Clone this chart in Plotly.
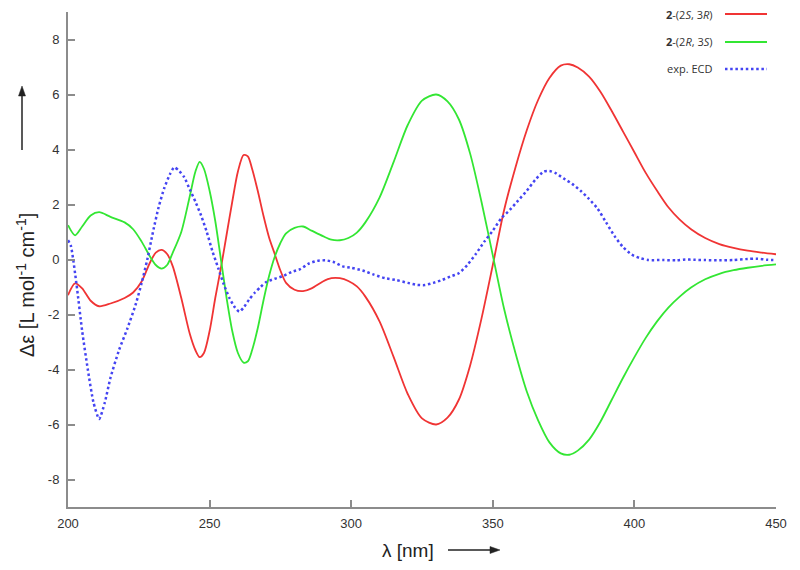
import plotly.graph_objects as go

# ---- data ----
red_x = [200, 202.5, 205, 208, 211, 215, 220, 223, 226, 229, 231, 233, 235, 237, 240, 243, 245, 246.5, 248, 250,
         252, 254, 256, 258, 260, 262, 263.5, 265, 267, 269, 271, 273, 275, 277, 280, 283, 286, 290, 293, 296,
         299, 302, 305, 310, 315, 320, 325, 330, 334, 338, 342, 346, 350, 354, 358, 362, 366, 370, 374, 377,
         380, 384, 388, 392, 396, 400, 404, 408, 412, 416, 420, 425, 430, 435, 440, 445, 450]
red_y = [-1.30, -0.87, -1.05, -1.50, -1.70, -1.60, -1.40, -1.20, -0.80, -0.10, 0.25, 0.35, 0.20, -0.25, -1.40, -2.70, -3.30, -3.55, -3.40, -2.60,
         -1.40, -0.30, 0.90, 2.10, 3.20, 3.80, 3.75, 3.30, 2.50, 1.60, 0.80, 0.20, -0.40, -0.85, -1.10, -1.15, -1.05, -0.80, -0.68, -0.68,
         -0.78, -0.98, -1.35, -2.25, -3.55, -4.90, -5.78, -6.00, -5.75, -5.10, -3.85, -2.15, -0.20, 1.80, 3.35, 4.70, 5.80, 6.60, 7.05, 7.10,
         6.98, 6.65, 6.10, 5.40, 4.65, 3.90, 3.15, 2.50, 1.90, 1.45, 1.10, 0.78, 0.56, 0.42, 0.32, 0.25, 0.19]

green_x = red_x
green_y = [1.25, 0.88, 1.20, 1.60, 1.72, 1.55, 1.35, 1.10, 0.65, 0.10, -0.20, -0.33, -0.20, 0.25, 1.00, 2.30, 3.20, 3.55, 3.30, 2.50,
           1.40, 0.00, -1.40, -2.60, -3.40, -3.75, -3.70, -3.30, -2.50, -1.50, -0.60, 0.10, 0.60, 0.95, 1.15, 1.20, 1.05, 0.85, 0.72, 0.70,
           0.78, 0.98, 1.35, 2.25, 3.55, 4.90, 5.78, 6.00, 5.75, 5.10, 3.85, 2.10, 0.15, -1.80, -3.40, -4.80, -5.85, -6.65, -7.05, -7.10,
           -6.95, -6.55, -5.90, -5.10, -4.30, -3.55, -2.85, -2.25, -1.75, -1.35, -1.02, -0.72, -0.52, -0.39, -0.30, -0.23, -0.18]

exp_x = [200, 201, 203, 205, 207, 209, 211, 213, 215, 218, 221, 224, 226, 228, 230, 232, 234, 236, 237.5, 239,
         241, 243, 245, 247, 249, 251, 253, 255, 257, 259, 260.5, 262, 264, 266, 268, 270, 273, 276, 279, 282,
         285, 288, 291, 294, 297, 300, 304, 308, 312, 316, 320, 323, 326, 329, 332, 335, 338, 341, 344, 347,
         350, 353, 356, 359, 362, 365, 368, 370, 372, 375, 378, 381, 384, 387, 390, 393, 396, 399, 402, 405,
         410, 415, 418, 421, 425, 430, 435, 440, 443, 447, 450]
exp_y = [0.70, 0.50, -0.90, -2.60, -4.00, -5.20, -5.80, -5.20, -4.30, -3.30, -2.50, -1.60, -0.85, 0.00, 1.00, 1.90, 2.60, 3.10, 3.35, 3.25,
         3.00, 2.55, 2.10, 1.60, 1.00, 0.30, -0.30, -0.90, -1.40, -1.75, -1.90, -1.75, -1.45, -1.20, -1.00, -0.82, -0.70, -0.60, -0.45, -0.35,
         -0.15, -0.05, -0.03, -0.10, -0.25, -0.30, -0.40, -0.55, -0.68, -0.75, -0.85, -0.92, -0.93, -0.85, -0.75, -0.62, -0.50, -0.20, 0.20, 0.65,
         1.05, 1.50, 1.80, 2.15, 2.50, 2.90, 3.20, 3.22, 3.15, 2.95, 2.75, 2.50, 2.20, 1.85, 1.35, 0.85, 0.45, 0.18, 0.05, -0.02,
         -0.02, -0.03, 0.00, -0.01, -0.02, -0.03, -0.02, 0.02, 0.03, -0.01, -0.02]

x_ticks = [200, 250, 300, 350, 400, 450]
y_ticks = [-8, -6, -4, -2, 0, 2, 4, 6, 8]
x_ticklabels = ["200", "250", "300", "350", "400", "450"]
y_ticklabels = ["-8", "-6", "-4", "-2", "0", "2", "4", "6", "8"]

legend_labels = ["<b>2</b>-(2<i>S</i>, 3<i>R</i>)", "<b>2</b>-(2<i>R</i>, 3<i>S</i>)", "exp. ECD"]
x_title = "λ [nm]"
y_title = "Δε [L mol<sup>-1</sup> cm<sup>-1</sup>]"

RED, GREEN, BLUE = "#f03434", "#33e633", "#4444f2"
AXIS = "#8c8c8c"
TXT = "#222222"

fig = go.Figure()
fig.add_trace(go.Scatter(x=red_x, y=red_y, mode="lines", line=dict(color=RED, width=1.8, shape="spline", smoothing=0.8)))
fig.add_trace(go.Scatter(x=green_x, y=green_y, mode="lines", line=dict(color=GREEN, width=1.8, shape="spline", smoothing=0.8)))
fig.add_trace(go.Scatter(x=exp_x, y=exp_y, mode="lines",
                         line=dict(color=BLUE, width=2.5, dash="2.5px,2.7px", shape="spline", smoothing=0.6)))

L, R, T, B = 68, 24, 12, 63
W, H = 800, 570
pw, ph = W - L - R, H - T - B


def px(xpix):
    return (xpix - L) / pw


def py(ypix):
    return (H - B - ypix) / ph


axis_common = dict(showline=True, linecolor=AXIS, linewidth=2, ticks="inside", ticklen=7,
                   tickcolor=AXIS, tickwidth=1.5, showgrid=False, zeroline=False,
                   tickfont=dict(family="Liberation Sans", size=13, color="#333333"))

fig.update_layout(
    width=W, height=H, margin=dict(l=L, r=R, t=T, b=B, autoexpand=False),
    paper_bgcolor="white", plot_bgcolor="white", showlegend=False,
    xaxis=dict(range=[200, 450], tickvals=x_ticks, ticktext=x_ticklabels, ticklabelstandoff=3, **axis_common),
    yaxis=dict(range=[-9, 9], tickvals=y_ticks, ticktext=y_ticklabels, ticklabelstandoff=4, **axis_common),
)

ann = []
shapes = []
# axis titles
ann.append(dict(text=x_title, x=px(408), y=py(550), xref="paper", yref="paper", showarrow=False,
                xanchor="center", yanchor="middle",
                font=dict(family="Liberation Sans", size=19, color=TXT)))
ann.append(dict(text=y_title, x=px(25), y=py(285), xref="paper", yref="paper", showarrow=False,
                textangle=-90, xanchor="center", yanchor="middle",
                font=dict(family="Liberation Sans", size=20, color=TXT)))

# arrows next to axis titles (drawn as shapes)
ax0, ax1, ayy = 448, 500, 550
shapes.append(dict(type="line", xref="paper", yref="paper", x0=px(ax0), x1=px(ax1 - 6), y0=py(ayy), y1=py(ayy),
                   line=dict(color=TXT, width=1.5)))
shapes.append(dict(type="path", xref="paper", yref="paper", fillcolor=TXT, line=dict(color=TXT, width=0.5),
                   path=f"M {px(ax1)},{py(ayy)} L {px(ax1 - 10)},{py(ayy - 3.5)} L {px(ax1 - 10)},{py(ayy + 3.5)} Z"))
bx, by0, by1 = 22, 150, 86
shapes.append(dict(type="line", xref="paper", yref="paper", x0=px(bx), x1=px(bx), y0=py(by0), y1=py(by1 + 6),
                   line=dict(color=TXT, width=1.5)))
shapes.append(dict(type="path", xref="paper", yref="paper", fillcolor=TXT, line=dict(color=TXT, width=0.5),
                   path=f"M {px(bx)},{py(by1)} L {px(bx - 3.5)},{py(by1 + 10)} L {px(bx + 3.5)},{py(by1 + 10)} Z"))

# legend
leg_y = [14, 42, 69]
colors = [RED, GREEN, BLUE]
for i, (lab, yy, c) in enumerate(zip(legend_labels, leg_y, colors)):
    ann.append(dict(text=lab, x=px(714), y=py(yy), xref="paper", yref="paper", showarrow=False,
                    xanchor="right", yanchor="middle",
                    font=dict(family="Open Sans", size=11, color="#333333")))
    shapes.append(dict(type="line", xref="paper", yref="paper", x0=px(725), x1=px(767), y0=py(yy), y1=py(yy),
                       line=dict(color=c, width=2.5 if i == 2 else 1.8, dash="2.5px,2.7px" if i == 2 else "solid")))

fig.update_layout(annotations=ann, shapes=shapes)
fig.write_html("out.html", config={"displayModeBar": False},
               post_script="document.body.style.margin='0';document.body.style.overflow='hidden';")
